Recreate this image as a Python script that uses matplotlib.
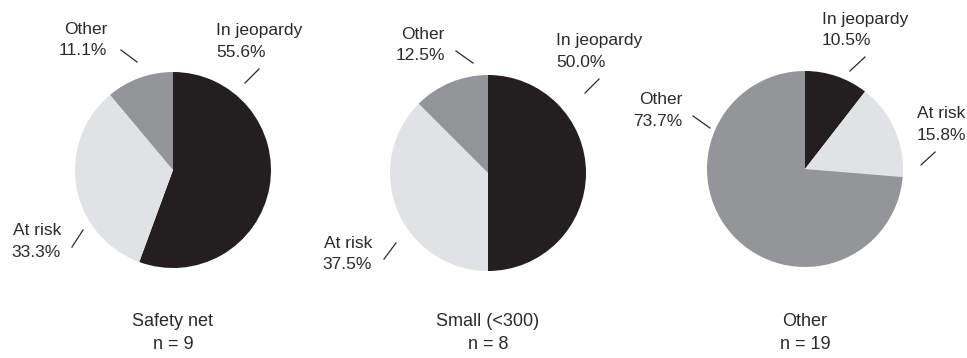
import matplotlib
matplotlib.use("Agg")
import matplotlib.pyplot as plt

plt.rcParams['font.family'] = ['Liberation Sans', 'DejaVu Sans']

# ---- data ----
categories = ["In jeopardy", "At risk", "Other"]
groups = ["Safety net", "Small (<300)", "Other"]
group_n = [9, 8, 19]
safety_net = [55.6, 33.3, 11.1]
small = [50.0, 37.5, 12.5]
other = [10.5, 15.8, 73.7]
series = [safety_net, small, other]

# ---- style ----
colors = ["#231f20", "#e1e2e3", "#939598"]
text_color = "#2b2b2b"
W, H = 967, 358
R = 98.0  # pie radius in px
centers = [(173, 170), (488, 173), (805, 169)]  # px, from top-left

# label layout in pie-radius units relative to centre: (x, y, ha)
label_pos = [
    [(0.439, 1.311, "left"), (-1.143, -0.730, "right"), (-0.673, 1.327, "right")],
    [(0.694, 1.240, "left"), (-1.184, -0.827, "right"), (-0.439, 1.306, "right")],
    [(0.173, 1.418, "left"), (1.143, 0.454, "left"), (-1.255, 0.597, "right")],
]
# leader lines (x0, y0, x1, y1) in pie-radius units
leaders = [
    [(0.735, 0.888, 0.878, 1.031), (-0.918, -0.612, -1.031, -0.786), (-0.367, 1.102, -0.531, 1.224)],
    [(0.990, 0.816, 1.133, 0.959), (-0.939, -0.714, -1.061, -0.878), (-0.153, 1.122, -0.327, 1.245)],
    [(0.459, 1.000, 0.612, 1.143), (1.184, 0.041, 1.327, 0.173), (-0.969, 0.418, -1.143, 0.541)],
]

fig = plt.figure(figsize=(W / 100, H / 100), dpi=100)
half = 150
lim = half / R
for i, vals in enumerate(series):
    cx, cy = centers[i]
    ax = fig.add_axes([(cx - half) / W, 1 - (cy + half) / H, 2 * half / W, 2 * half / H])
    ax.pie(vals, colors=colors, startangle=90, counterclock=False, radius=1,
           wedgeprops=dict(linewidth=0))
    ax.set_xlim(-lim, lim)
    ax.set_ylim(-lim, lim)
    ax.set_aspect("equal")
    ax.axis("off")
    for j, cat in enumerate(categories):
        x, y, ha = label_pos[i][j]
        ax.text(x, y, f"{cat}\n{vals[j]:.1f}%", ha=ha, va="center",
                fontsize=12.5, color=text_color, linespacing=1.55)
        x0, y0, x1, y1 = leaders[i][j]
        ax.plot([x0, x1], [y0, y1], color=text_color, lw=0.9, clip_on=False)
    fig.text(cx / W, 1 - 333 / H, f"{groups[i]}\nn = {group_n[i]}", ha="center",
             va="center", fontsize=13, color=text_color, linespacing=1.4)

fig.savefig("out.png", dpi=100, facecolor="white")
